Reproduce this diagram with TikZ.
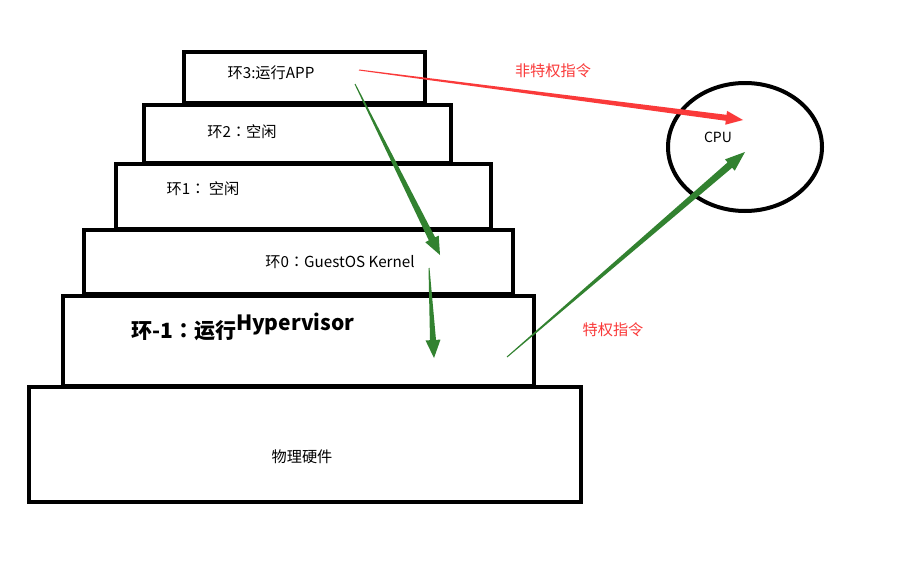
\documentclass[tikz,border=0pt]{standalone}
\usepackage{fontspec}
\setmainfont{Noto Sans CJK SC}
\newfontfamily\tcfont{Noto Sans CJK TC}
\newcommand\cc{{\tcfont ：}}
\usetikzlibrary{calc,shapes.geometric}
\definecolor{arrgreen}{RGB}{50,130,48}
\definecolor{arrred}{RGB}{250,58,58}
\newcommand\taperarrow[6]{% start, tip, half shaft width, head length, half head width, colour
  \coordinate (hb) at ($(#2)!#4!(#1)$);
  \fill[#6] ($(#1)!0.5pt!90:(#2)$) -- ($(hb)!#3!90:(#2)$) -- ($(hb)!#5!90:(#2)$) -- (#2)
    -- ($(hb)!#5!-90:(#2)$) -- ($(hb)!#3!-90:(#2)$) -- ($(#1)!0.5pt!-90:(#2)$) -- cycle;}
\begin{document}
\begin{tikzpicture}[x=1pt,y=-1pt,
  box/.style={draw, line width=4pt, rectangle, inner sep=0pt},
  txt/.style={font=\fontsize{15.2}{17}\selectfont, inner sep=0pt},
  redtxt/.style={txt, text=arrred}]
\useasboundingbox[fill=white] (0,0) rectangle (902,562);
% layers
\node[box, minimum width=241, minimum height=51] (r3) at (304.5,77.5) {};
\node[box, minimum width=307, minimum height=58] (r2) at (297.5,134) {};
\node[box, minimum width=375, minimum height=65] (r1) at (303.5,196.5) {};
\node[box, minimum width=429, minimum height=64] (r0) at (298.5,262) {};
\node[box, minimum width=471, minimum height=90] (rm1) at (298.5,341) {};
\node[box, minimum width=552, minimum height=115] (hw) at (305,444.5) {};
% labels
\node[txt] (t3) at (271,73) {环3:运行APP};
\node[txt] (t2) at (242,132) {环2\cc 空闲};
\node[txt] (t1) at (203,189) {环1\cc\ 空闲};
\node[txt] (t0) at (340,262) {环0\cc GuestOS Kernel};
\node[inner sep=0pt, anchor=base west, font=\fontsize{21}{23}\selectfont\bfseries] (tm1) at (131,338) {环-1{\tcfont ：}运行\raisebox{7.5pt}{Hypervisor}};
\node[txt] (thw) at (302,457) {物理硬件};
% CPU
\node[draw, ellipse, line width=4pt, minimum width=154, minimum height=128, inner sep=0pt] (cpu) at (745,147) {};
\node[txt, font=\fontsize{14}{16}\selectfont] (cpulbl) at (718,137) {CPU};
\node[redtxt] (lnp) at (553,71) {非特权指令};
\node[redtxt] (lp) at (613,330) {特权指令};
% arrow end points
\coordinate (a1s) at (359,70);
\coordinate (a1e) at (743,120);
\coordinate (g1s) at (355,84);
\coordinate (g1e) at (440,255);
\coordinate (g2s) at (429,268);
\coordinate (g2e) at (434,358);
\coordinate (g3s) at (507,357);
\coordinate (g3e) at (745,152);
% arrows
\taperarrow{a1s}{a1e}{3pt}{17pt}{7pt}{arrred}
\taperarrow{g1s}{g1e}{3.5pt}{18pt}{7.5pt}{arrgreen}
\taperarrow{g2s}{g2e}{3pt}{18pt}{7.5pt}{arrgreen}
\taperarrow{g3s}{g3e}{3.5pt}{20pt}{7.5pt}{arrgreen}
\end{tikzpicture}
\end{document}
